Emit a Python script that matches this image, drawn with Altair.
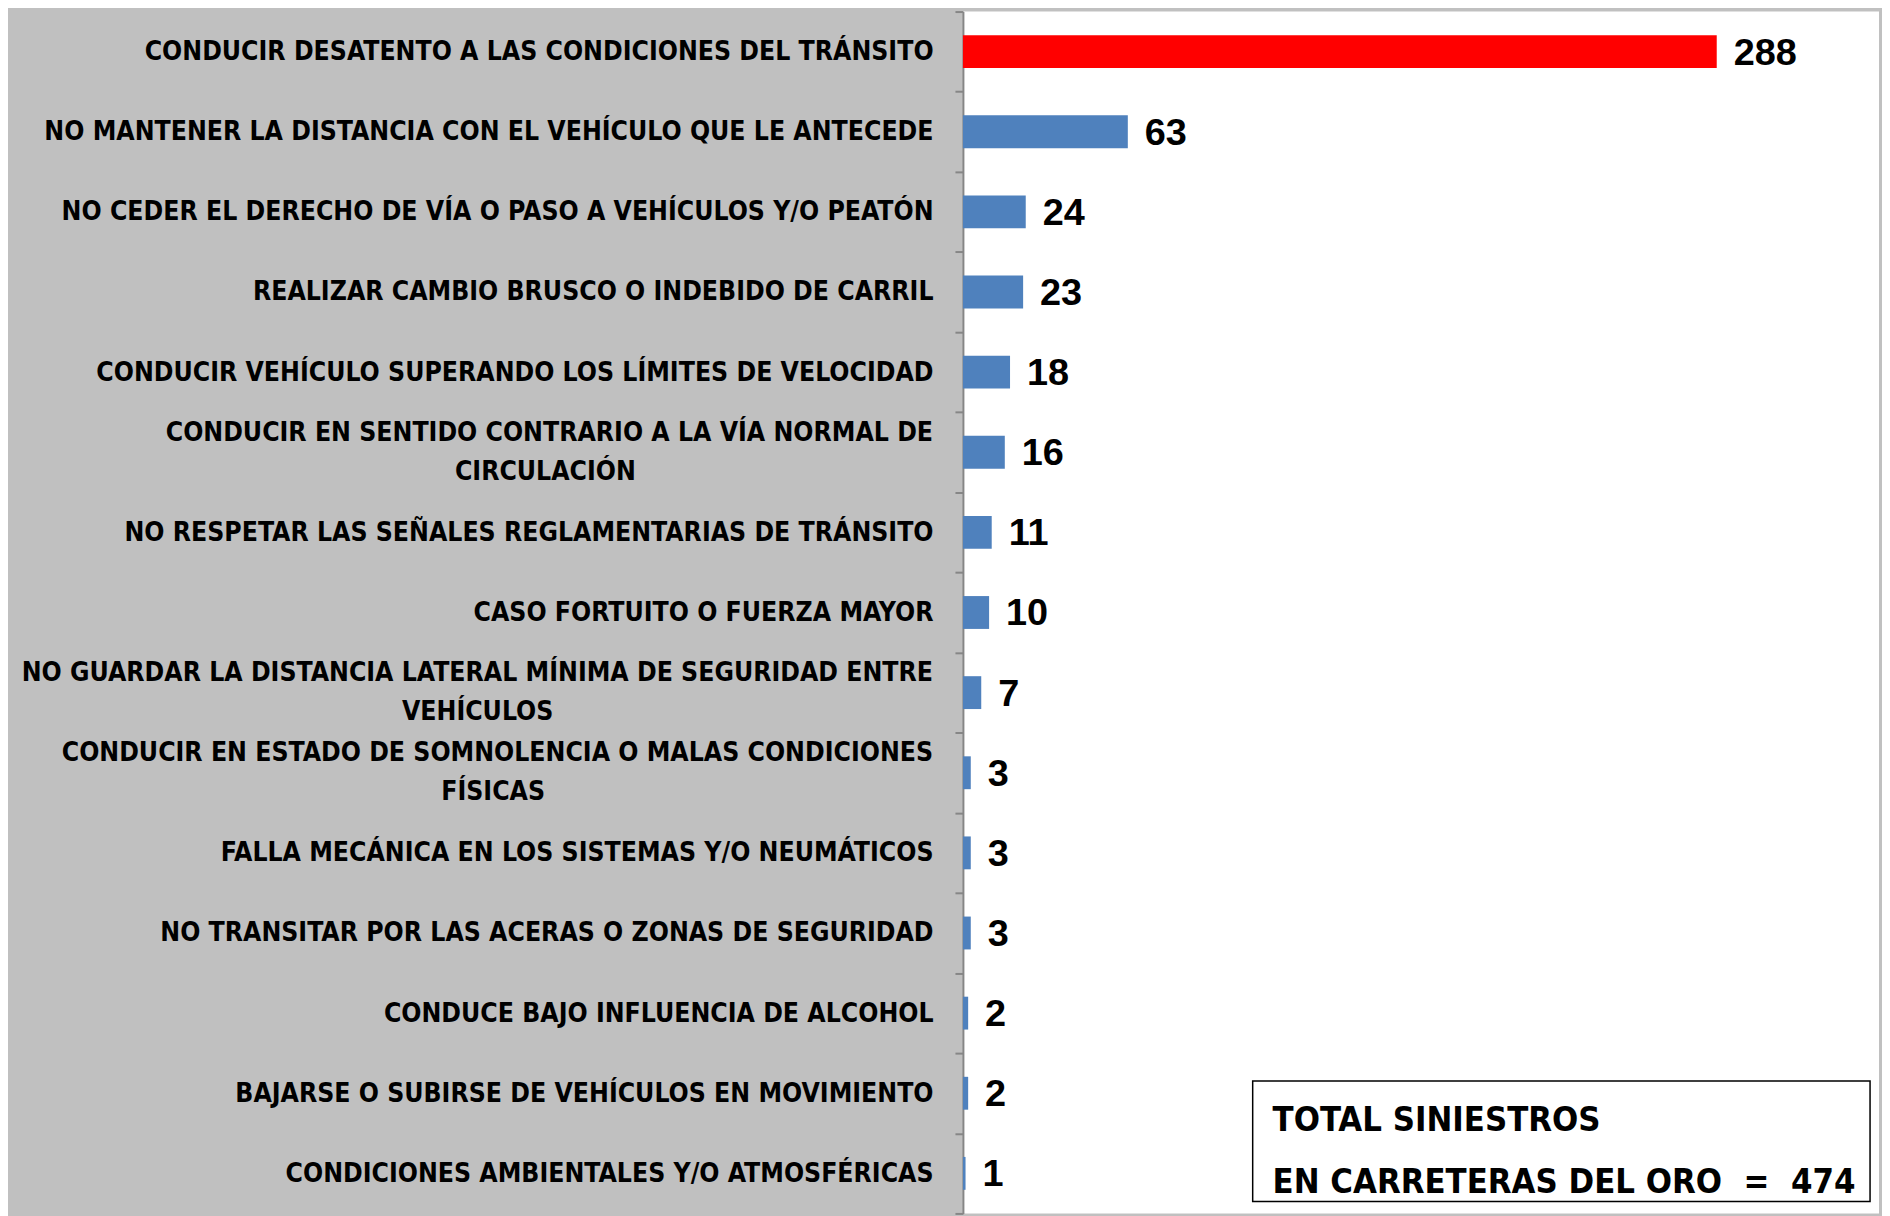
import altair as alt
import pandas as pd

causas = [
    "CONDUCIR DESATENTO A LAS CONDICIONES DEL TRÁNSITO",
    "NO MANTENER LA DISTANCIA CON EL VEHÍCULO QUE LE ANTECEDE",
    "NO CEDER EL DERECHO DE VÍA O PASO A VEHÍCULOS Y/O PEATÓN",
    "REALIZAR CAMBIO BRUSCO O INDEBIDO DE CARRIL",
    "CONDUCIR VEHÍCULO SUPERANDO LOS LÍMITES DE VELOCIDAD",
    "CONDUCIR EN SENTIDO CONTRARIO A LA VÍA NORMAL DE\nCIRCULACIÓN",
    "NO RESPETAR LAS SEÑALES REGLAMENTARIAS DE TRÁNSITO",
    "CASO FORTUITO O FUERZA MAYOR",
    "NO GUARDAR LA DISTANCIA LATERAL MÍNIMA DE SEGURIDAD ENTRE\nVEHÍCULOS",
    "CONDUCIR EN ESTADO DE SOMNOLENCIA O MALAS CONDICIONES\nFÍSICAS",
    "FALLA MECÁNICA EN LOS SISTEMAS Y/O NEUMÁTICOS",
    "NO TRANSITAR POR LAS ACERAS O ZONAS DE SEGURIDAD",
    "CONDUCE BAJO INFLUENCIA DE ALCOHOL",
    "BAJARSE O SUBIRSE DE VEHÍCULOS EN MOVIMIENTO",
    "CONDICIONES AMBIENTALES Y/O ATMOSFÉRICAS",
]
siniestros = [288, 63, 24, 23, 18, 16, 11, 10, 7, 3, 3, 3, 2, 2, 1]
total_linea1 = "TOTAL SINIESTROS"
total_linea2 = "EN CARRETERAS DEL ORO  =  474"

FONT = "DejaVu Sans Condensed"
NUM_FONT = "Liberation Sans"
LABEL_SIZE = 26.5

# approximate relative glyph advances of the bold font, used only to centre the
# short second line of a wrapped label under its first line
_ANCHO = {
    "A": .774, "B": .762, "C": .734, "D": .830, "E": .683, "F": .683, "G": .821,
    "H": .837, "I": .372, "J": .372, "K": .775, "L": .637, "M": .995, "N": .837,
    "O": .850, "P": .733, "Q": .850, "R": .770, "S": .720, "T": .682, "U": .812,
    "V": .774, "W": 1.103, "X": .771, "Y": .724, "Z": .725, " ": .348, "/": .365,
}
_BASE = str.maketrans("ÁÉÍÓÚÑ", "AEIOUN")


def ancho(s):
    return sum(_ANCHO.get(ch, .75) for ch in s.translate(_BASE))


def etiqueta(c):
    if "\n" in c:
        a, b = c.split("\n")
        n = int(round((ancho(a) - ancho(b)) / 2 / _ANCHO[" "]))
        # trailing no-break spaces keep the short line centred; the zero-width
        # space stops them from being trimmed away
        return a + "\n" + b + "\u00a0" * n + "\u200b"
    return c


df = pd.DataFrame({
    "causa": [etiqueta(c) for c in causas],
    "valor": siniestros,
})

W, H = 920, 1207

base = alt.Chart(df).transform_joinaggregate(maximo="max(valor)")

y_enc = alt.Y(
    "causa:N",
    sort=None,
    title=None,
    scale=alt.Scale(paddingInner=0, paddingOuter=0),
    axis=alt.Axis(
        labelExpr="indexof(datum.label, '\\n') >= 0 ? '' : datum.label",
        domainColor="#868686",
        domainWidth=2,
        tickColor="#868686",
        tickWidth=2,
        tickSize=8,
        tickBand="extent",
        labelPadding=22,
        labelFont=FONT,
        labelFontSize=LABEL_SIZE,
        labelFontWeight="bold",
        labelColor="black",
        labelLimit=0,
        labelAlign="right",
        labelBaseline="middle",
        grid=False,
    ),
)
x_enc = alt.X("valor:Q", axis=None, scale=alt.Scale(domain=[0, 350], nice=False))

bars = base.mark_bar(size=33).encode(
    x=x_enc,
    y=y_enc,
    color=alt.condition("datum.valor == datum.maximo", alt.value("#FF0000"), alt.value("#4F81BD")),
)

valores = base.mark_text(
    align="left", baseline="middle", dx=17, dy=2,
    font=NUM_FONT, fontSize=38, fontWeight="bold", color="black",
).encode(x=x_enc, y=y_enc, text="valor:Q")

# wrapped (two-line) category labels, centred on their band
etiquetas_largas = alt.Chart(df).transform_filter(
    "indexof(datum.causa, '\\n') >= 0"
).mark_text(
    align="right", baseline="middle", lineBreak="\n", lineHeight=39, dy=-19.5,
    font=FONT, fontSize=LABEL_SIZE, fontWeight="bold", color="black",
).encode(x=alt.value(-30), y=alt.Y("causa:N", sort=None), text="causa:N")

caja_df = pd.DataFrame({"l1": [total_linea1], "l2": [total_linea2.replace("  ", "\u00a0\u00a0")]})
caja = alt.Chart(caja_df).mark_rect(fill="white", stroke="black", strokeWidth=1.5).encode(
    x=alt.value(291), x2=alt.value(911), y=alt.value(1074), y2=alt.value(1195)
)
t1 = alt.Chart(caja_df).mark_text(
    align="left", baseline="alphabetic", font=FONT, fontSize=34.5, fontWeight="bold", color="black"
).encode(x=alt.value(311), y=alt.value(1124), text="l1:N")
t2 = alt.Chart(caja_df).mark_text(
    align="left", baseline="alphabetic", font=FONT, fontSize=34.5, fontWeight="bold", color="black"
).encode(x=alt.value(311), y=alt.value(1186), text="l2:N")

chart = alt.layer(bars, valores, etiquetas_largas, caja, t1, t2).properties(
    width=W,
    height=H,
    padding={"left": 959, "top": 1, "right": 3, "bottom": 0},
    autosize="none",
).configure(background="#C0C0C0").configure_view(fill="white", stroke=None)

chart.save("out.html", embed_options={"renderer": "svg", "actions": False})
